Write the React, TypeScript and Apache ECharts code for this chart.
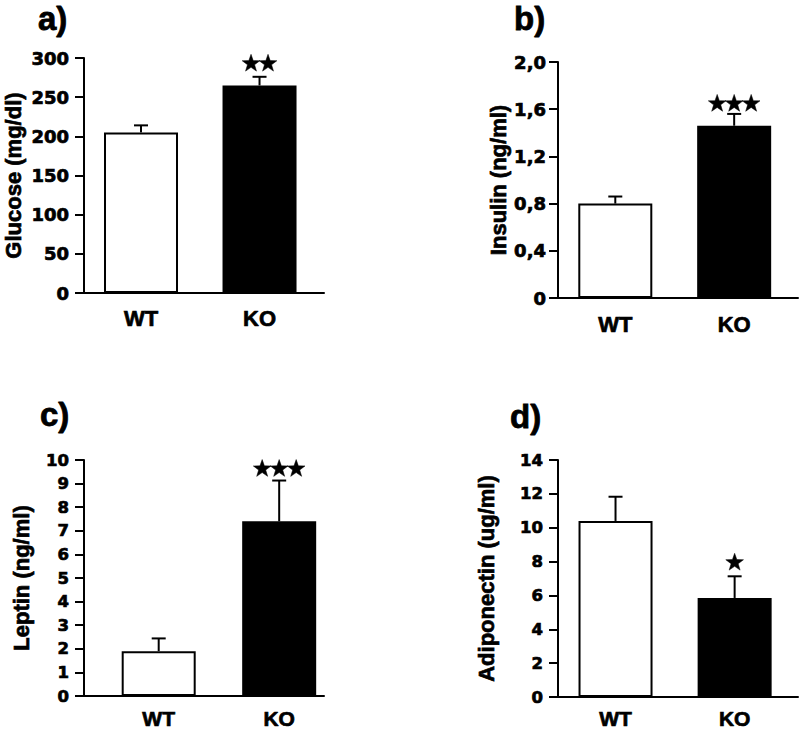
import React, { useEffect, useRef } from "react";
import * as echarts from "echarts";

// ---- data ----
const categories = ["WT", "KO"];

const glucoseMean = [205, 265];
const glucoseErr = [9, 11];
const glucoseStars = [0, 2];
const glucoseTicks = [0, 300, 50];

const insulinMean = [0.8, 1.46];
const insulinErr = [0.06, 0.1];
const insulinStars = [0, 3];
const insulinTicks = [0, 2, 0.4];

const leptinMean = [1.9, 7.4];
const leptinErr = [0.54, 1.73];
const leptinStars = [0, 3];
const leptinTicks = [0, 10, 1];

const adipoMean = [10.4, 5.85];
const adipoErr = [1.43, 1.28];
const adipoStars = [0, 1];
const adipoTicks = [0, 14, 2];

const panelLabels = ["a)", "b)", "c)", "d)"];
const axisNames = ["Glucose (mg/dl)", "Insulin (ng/ml)", "Leptin (ng/ml)", "Adiponectin (ug/ml)"];

// ---- layout / style ----
const TEXT_FONT = "Liberation Sans";
const TICK_FONT = "DejaVu Sans";
const barColors = ["#ffffff", "#000000"];
const STROKE = 0.7;

const panels = [
  {
    mean: glucoseMean, err: glucoseErr, stars: glucoseStars, ticks: glucoseTicks,
    grid: { left: 84, top: 58, width: 240, height: 235 },
    xr: [-0.481, 1.544], tickFont: 18, labelMargin: 15, nameGap: 60, catMargin: 14, catFont: 22, starGap: 14,
    fmt: (v: number) => String(v),
    title: { x: 38, y: 18 },
  },
  {
    mean: insulinMean, err: insulinErr, stars: insulinStars, ticks: insulinTicks,
    grid: { left: 558, top: 62, width: 240, height: 236 },
    xr: [-0.482, 1.537], tickFont: 18, labelMargin: 12, nameGap: 48, catMargin: 15, catFont: 22, starGap: 11,
    fmt: (v: number) => (v === 0 ? "0" : v.toFixed(1).replace(".", ",")),
    title: { x: 514, y: 18 },
  },
  {
    mean: leptinMean, err: leptinErr, stars: leptinStars, ticks: leptinTicks,
    grid: { left: 84, top: 460, width: 240, height: 236 },
    xr: [-0.62, 1.372], tickFont: 16.5, labelMargin: 15, nameGap: 52, catMargin: 12, catFont: 21, starGap: 12.5,
    fmt: (v: number) => String(v),
    title: { x: 40, y: 414 },
  },
  {
    mean: adipoMean, err: adipoErr, stars: adipoStars, ticks: adipoTicks,
    grid: { left: 558, top: 460, width: 240, height: 237 },
    xr: [-0.483, 1.532], tickFont: 16.5, labelMargin: 15, nameGap: 61, catMargin: 11, catFont: 21, starGap: 14.5,
    fmt: (v: number) => String(v),
    title: { x: 510, y: 416 },
  },
];

function starPoints(cx: number, cy: number, R: number) {
  const r = R * 0.4;
  const pts: number[][] = [];
  for (let k = 0; k < 10; k++) {
    const a = -Math.PI / 2 + (k * Math.PI) / 5;
    const rad = k % 2 === 0 ? R : r;
    pts.push([cx + rad * Math.cos(a), cy + rad * Math.sin(a)]);
  }
  return pts;
}

function buildOption() {
  const grids: any[] = [];
  const xAxes: any[] = [];
  const yAxes: any[] = [];
  const series: any[] = [];
  const graphic: any[] = [];

  panels.forEach((p, gi) => {
    grids.push({ ...p.grid, outerBoundsMode: "none", containLabel: false });
    xAxes.push({
      type: "value",
      gridIndex: gi,
      min: p.xr[0],
      max: p.xr[1],
      axisLine: { show: true, onZero: false, lineStyle: { color: "#000", width: 2 } },
      axisTick: { show: false },
      splitLine: { show: false },
      axisLabel: {
        show: true,
        customValues: [0, 1],
        formatter: (v: number) => (Math.abs(v - Math.round(v)) < 1e-6 && categories[Math.round(v)]) || "",
        color: "#000",
        fontFamily: TEXT_FONT,
        fontWeight: "bold",
        fontSize: p.catFont,
        textBorderColor: "#000",
        textBorderWidth: STROKE,
        margin: p.catMargin,
      },
    });
    yAxes.push({
      type: "value",
      gridIndex: gi,
      min: p.ticks[0],
      max: p.ticks[1],
      interval: p.ticks[2],
      name: axisNames[gi],
      nameLocation: "middle",
      nameGap: p.nameGap,
      nameTextStyle: {
        color: "#000", fontFamily: TEXT_FONT, fontWeight: "bold", fontSize: 22,
        textBorderColor: "#000", textBorderWidth: STROKE,
      },
      axisLine: { show: true, onZero: false, lineStyle: { color: "#000", width: 2 } },
      axisTick: { show: true, length: 9, lineStyle: { color: "#000", width: 2 } },
      splitLine: { show: false },
      axisLabel: {
        color: "#000",
        fontFamily: TICK_FONT,
        fontWeight: "bold",
        fontSize: p.tickFont,
        textBorderColor: "#000",
        textBorderWidth: STROKE,
        margin: p.labelMargin,
        formatter: p.fmt,
      },
    });
    series.push({
      type: "bar",
      xAxisIndex: gi,
      yAxisIndex: gi,
      barWidth: 74,
      data: categories.map((c, i) => ({
        name: c,
        value: [i, p.mean[i]],
        itemStyle: { color: barColors[i], borderColor: "#000", borderWidth: 2 },
      })),
      z: 2,
    });
    series.push({
      type: "custom",
      xAxisIndex: gi,
      yAxisIndex: gi,
      z: 3,
      encode: { x: 0, y: [1, 2] },
      data: categories.map((c, i) => [i, p.mean[i], p.mean[i] + p.err[i]]),
      renderItem: (params: any, api: any) => {
        const x = api.value(0);
        const lo = api.coord([x, api.value(1)]);
        const hi = api.coord([x, api.value(2)]);
        const children: any[] = [
          { type: "line", shape: { x1: lo[0], y1: lo[1], x2: hi[0], y2: hi[1] }, style: { stroke: "#000", lineWidth: 2 } },
          { type: "line", shape: { x1: hi[0] - 7, y1: hi[1], x2: hi[0] + 7, y2: hi[1] }, style: { stroke: "#000", lineWidth: 2 } },
        ];
        const n = p.stars[params.dataIndex];
        const spacing = 17;
        for (let k = 0; k < n; k++) {
          const cx = hi[0] + (k - (n - 1) / 2) * spacing;
          const cy = hi[1] - p.starGap;
          children.push({
            type: "polygon",
            shape: { points: starPoints(cx, cy + 0.8, 9.3) },
            style: { fill: "#000", stroke: "#000", lineWidth: 0.5 },
          });
        }
        return { type: "group", children };
      },
    });
    graphic.push({
      type: "text",
      x: p.title.x,
      y: p.title.y,
      style: {
        text: panelLabels[gi],
        fill: "#000",
        fontFamily: TEXT_FONT,
        fontWeight: "bold",
        fontSize: 33,
        stroke: "#000",
        lineWidth: 0.8,
        textAlign: "left",
        textVerticalAlign: "middle",
      },
    });
  });

  return {
    animation: false,
    backgroundColor: "#ffffff",
    grid: grids,
    xAxis: xAxes,
    yAxis: yAxes,
    series,
    graphic,
  };
}

export default function App() {
  const ref = useRef<HTMLDivElement>(null);
  useEffect(() => {
    if (!ref.current) return;
    const chart = echarts.init(ref.current, undefined, { renderer: "svg" });
    chart.setOption(buildOption() as any);
    return () => chart.dispose();
  }, []);
  return (
    <div
      ref={ref}
      style={{ position: "fixed", left: 0, top: 0, width: 800, height: 731, background: "#fff" }}
    />
  );
}
